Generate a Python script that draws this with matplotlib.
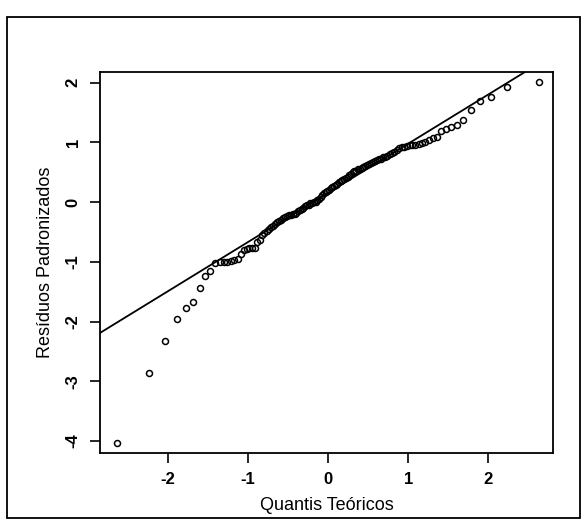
import matplotlib
matplotlib.use("Agg")
import matplotlib.pyplot as plt
from matplotlib.patches import Rectangle
from statistics import NormalDist

# sorted standardized residuals (n = 120)
residuals = [
    -4.03, -2.86, -2.33, -1.96, -1.78, -1.67, -1.44, -1.24, -1.16, -1.02,
    -1.00, -1.00, -1.00, -0.99, -0.97, -0.95, -0.86, -0.80, -0.78, -0.77,
    -0.77, -0.76, -0.66, -0.63, -0.55, -0.51, -0.48, -0.45, -0.42, -0.40,
    -0.37, -0.34, -0.31, -0.29, -0.27, -0.25, -0.23, -0.22, -0.21, -0.20,
    -0.19, -0.18, -0.15, -0.13, -0.11, -0.09, -0.07, -0.05, -0.04, -0.02,
    -0.01, 0.00, 0.01, 0.03, 0.06, 0.09, 0.12, 0.15, 0.17, 0.19,
    0.21, 0.23, 0.25, 0.27, 0.29, 0.31, 0.33, 0.35, 0.37, 0.39,
    0.41, 0.43, 0.46, 0.48, 0.50, 0.52, 0.53, 0.55, 0.56, 0.58,
    0.59, 0.61, 0.62, 0.64, 0.66, 0.67, 0.69, 0.71, 0.72, 0.73,
    0.75, 0.76, 0.78, 0.80, 0.82, 0.84, 0.87, 0.90, 0.92, 0.93,
    0.94, 0.95, 0.95, 0.96, 0.97, 0.99, 1.01, 1.04, 1.07, 1.09,
    1.19, 1.22, 1.26, 1.29, 1.37, 1.54, 1.69, 1.76, 1.93, 2.01,
]

# reference line (qqline)
line_intercept = 0.156
line_slope = 0.823

x_ticks = [-2, -1, 0, 1, 2]
y_ticks = [-4, -3, -2, -1, 0, 1, 2]

n = len(residuals)
theo = [NormalDist().inv_cdf((i - 0.5) / n) for i in range(1, n + 1)]

plt.rcParams['font.family'] = ['Liberation Sans', 'DejaVu Sans']

fig = plt.figure(figsize=(5.85, 5.26), dpi=100)
fig.patch.set_facecolor('white')

# scanned page frame
fig.patches.append(Rectangle((7 / 585, 1 - 518 / 526), 573 / 585, 501 / 526,
                             transform=fig.transFigure, fill=False,
                             edgecolor='black', linewidth=1.3))

ax = fig.add_axes([100 / 585, 1 - 453 / 526, 453 / 585, 381 / 526])
ax.plot(theo, residuals, linestyle='none', marker='o', markersize=4.3,
        markerfacecolor='none', markeredgecolor='black', markeredgewidth=1.1)
ax.axline((0, line_intercept), slope=line_slope, color='black', linewidth=1.3)

ax.set_xlim(-2.85, 2.81)
ax.set_ylim(-4.20, 2.18)
ax.set_xticks(x_ticks)
ax.set_yticks(y_ticks)
ax.set_xticklabels([str(t) for t in x_ticks], fontsize=12, fontweight='bold')
ax.set_yticklabels([str(t) for t in y_ticks], fontsize=12, fontweight='bold',
                   rotation=90, va='center')
ax.tick_params(direction='out', length=7, width=1.2, pad=7, colors='black')
for s in ax.spines.values():
    s.set_linewidth(1.3)

ax.set_xlabel('Quantis Teóricos', fontsize=13, labelpad=7)
ax.set_ylabel('Resíduos Padronizados', fontsize=13, labelpad=8)

fig.savefig('out.png', dpi=100)
